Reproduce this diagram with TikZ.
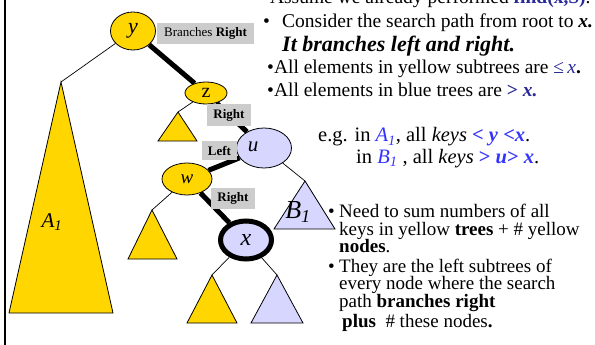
\documentclass[tikz,border=0pt]{standalone}
\usepackage{fontspec}
\setmainfont{Liberation Serif}
\usetikzlibrary{shapes.geometric,backgrounds}
\definecolor{ylw}{RGB}{255,214,0}
\definecolor{lav}{RGB}{214,214,255}
\definecolor{lblgray}{RGB}{204,204,204}
\definecolor{navy}{RGB}{40,40,150}
\definecolor{brblue}{RGB}{51,51,255}
\begin{document}
\begin{tikzpicture}[x=1pt,y=-1pt,
  ynode/.style={ellipse,draw=black,line width=0.8pt,fill=ylw,inner sep=0pt},
  bnode/.style={ellipse,draw=black,line width=0.8pt,fill=lav,inner sep=0pt},
  lbl/.style={fill=lblgray,inner sep=0pt,font=\fontsize{13}{15}\selectfont},
  srch/.style={line width=5pt},
  twig/.style={line width=0.7pt},
  ytri/.style={fill=ylw,draw=black,line width=0.8pt},
  btri/.style={fill=lav,draw=black,line width=0.8pt},
  txt/.style={anchor=base west,inner sep=0pt,font=\fontsize{19.5}{21}\selectfont},
  stxt/.style={anchor=base west,inner sep=0pt,font=\fontsize{20.5}{22}\selectfont},
  btxt/.style={anchor=base west,inner sep=0pt,font=\fontsize{19}{20}\selectfont},
]
\useasboundingbox (0,0) rectangle (595,345);
\draw[line width=2.5pt] (5,0) -- (5,345);

% tree nodes
\node[ynode,minimum width=45pt,minimum height=38pt,font=\fontsize{22}{22}\selectfont\itshape] (y) at (133,31) {y};
\node[ynode,minimum width=42pt,minimum height=22pt,font=\fontsize{20}{20}\selectfont] (z) at (206,93) {z};
\node[bnode,minimum width=55pt,minimum height=40pt] (u) at (264,148) {};
\node[inner sep=0pt,font=\fontsize{21}{21}\selectfont\itshape] (ut) at (253,147) {u};
\node[ynode,minimum width=50pt,minimum height=32pt,font=\fontsize{19}{19}\selectfont\itshape] (w) at (187,179) {w};
\node[ellipse,draw=black,line width=5pt,fill=lav,inner sep=0pt,minimum width=51pt,minimum height=38pt,font=\fontsize{24}{24}\selectfont\itshape] (x) at (246,240) {x};

% triangles
\coordinate (ta) at (61,82);
\draw[ytri] (ta) -- (113,313) -- (9,313) -- cycle;
\node[inner sep=0pt,font=\fontsize{21}{21}\selectfont\itshape] (A) at (52,222) {A\textsubscript{1}};
\coordinate (tz) at (178,112);
\draw[ytri] (tz) -- (197,141) -- (158,141) -- cycle;
\coordinate (tw) at (152,210);
\draw[ytri] (tw) -- (177,259) -- (128,259) -- cycle;
\coordinate (txl) at (212,275);
\draw[ytri] (txl) -- (237,323) -- (187,323) -- cycle;
\coordinate (txr) at (277,275);
\draw[btri] (txr) -- (303,323) -- (251,323) -- cycle;
\coordinate (tb) at (305,181);
\draw[btri] (tb) -- (335,229) -- (274,229) -- cycle;
\node[inner sep=0pt,font=\fontsize{26}{26}\selectfont\itshape] (B) at (298,212) {B\textsubscript{1}};

\begin{pgfonlayer}{background}
\draw[srch] (y) -- (z);
\draw[srch] (z) -- (u);
\draw[srch] (u) -- (w);
\draw[srch] (w) -- (x);
\end{pgfonlayer}
\draw[twig] (y) -- (ta);
\draw[twig] (z) -- (tz);
\draw[twig] (w) -- (tw);
\draw[twig] (x) -- (txl);
\draw[twig] (x) -- (txr);
\draw[twig] (u) -- (tb);

% labels
\node[lbl,minimum width=97pt,minimum height=21pt] (l1) at (205.5,33.5) {Branches \textbf{Right}};
\node[lbl,minimum width=44pt,minimum height=22pt] (l2) at (229,115) {\textbf{Right}};
\node[lbl,minimum width=35pt,minimum height=19pt] (l3) at (219.5,150.5) {\textbf{Left}};
\node[lbl,minimum width=44pt,minimum height=21pt] (l4) at (233,198.5) {\textbf{Right}};

% right text
\node[txt] (t0) at (263,4) {•Assume we already performed \textcolor{navy}{\textbf{find(x,S)}}.};
\node[txt] (t1b) at (263,28) {•};
\node[txt] (t1) at (282,28) {Consider the search path from root to \textbf{\textit{x.}}};
\node[txt,font=\fontsize{22}{24}\selectfont\bfseries\itshape] (t2) at (282,52) {It branches left and right.};
\node[txt] (t3) at (267,74) {•All elements in yellow subtrees are \textcolor{navy}{≤\,\textit{x}}\textbf{.}};
\node[txt] (t4) at (267,97) {•All elements in blue trees are \textcolor{navy}{\textbf{> \textit{x.}}}};

\node[stxt] (e1) at (318,142) {e.g. in \textcolor{brblue}{\textit{A\textsubscript{1}}}, all \textit{keys} \textcolor{brblue}{\textbf{< \textit{y} <\textit{x}}}.};
\node[stxt] (e2) at (356,163) {in \textcolor{brblue}{\textit{B\textsubscript{1}}} , all \textit{keys} \textcolor{brblue}{\textbf{> \textit{u}> \textit{x}}}.};

\node[btxt] (b1b) at (328,217) {•};
\node[btxt] (b1) at (339,217) {Need to sum numbers of all};
\node[btxt] (b2) at (339,235) {keys in yellow \textbf{trees} + \# yellow};
\node[btxt] (b3) at (339,252) {\textbf{nodes}.};
\node[btxt] (b4b) at (328,272) {•};
\node[btxt] (b4) at (339,272) {They are the left subtrees of};
\node[btxt] (b5) at (339,289) {every node where the search};
\node[btxt] (b6) at (339,307) {path \textbf{branches right}};
\node[btxt] (b7) at (342,327) {\textbf{plus}\ \ \# these nodes\textbf{.}};
\end{tikzpicture}
\end{document}
